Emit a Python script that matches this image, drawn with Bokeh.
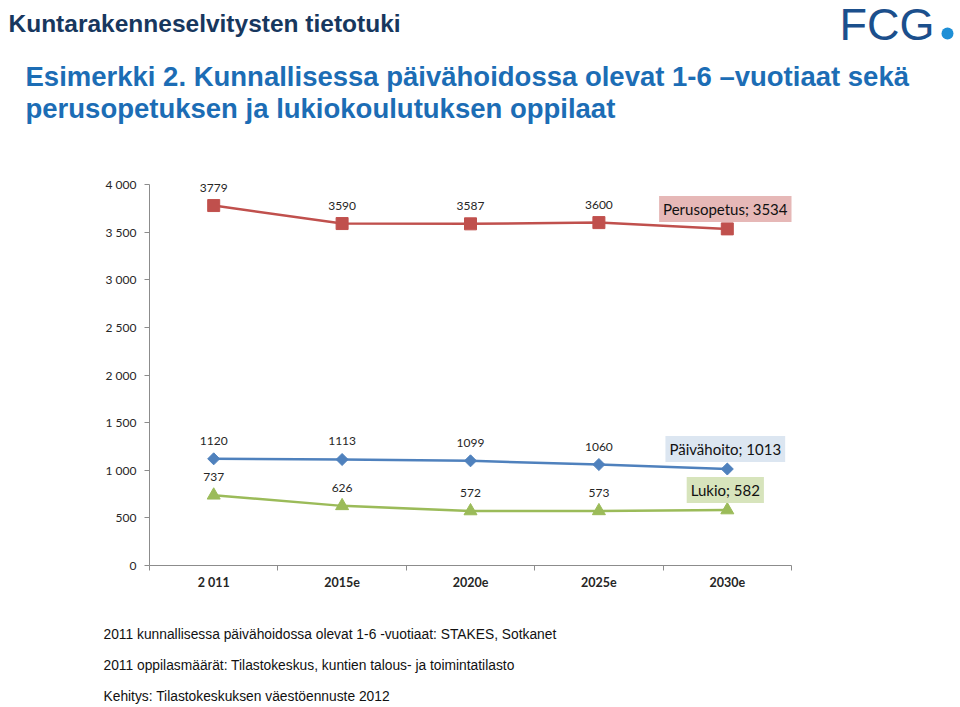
from bokeh.plotting import figure
from bokeh.models import FixedTicker, Label, ColumnDataSource, Range1d, Plot
from bokeh.layouts import column
from bokeh.embed import file_html
from bokeh.resources import INLINE
from bokeh.core.properties import value

# ---- data ----
categories = ["2 011", "2015e", "2020e", "2025e", "2030e"]
perusopetus = [3779, 3590, 3587, 3600, 3534]
paivahoito = [1120, 1113, 1099, 1060, 1013]
lukio = [737, 626, 572, 573, 582]
series_names = ["Perusopetus", "Päivähoito", "Lukio"]
y_ticks = [0, 500, 1000, 1500, 2000, 2500, 3000, 3500, 4000]
y_tick_labels = ["0", "500", "1 000", "1 500", "2 000", "2 500", "3 000", "3 500", "4 000"]

header = "Kuntarakenneselvitysten tietotuki"
title_lines = ["Esimerkki 2.  Kunnallisessa päivähoidossa olevat 1-6 –vuotiaat sekä",
               "perusopetuksen ja lukiokoulutuksen oppilaat"]
footer_lines = ["2011 kunnallisessa päivähoidossa olevat 1-6 -vuotiaat: STAKES, Sotkanet",
                "2011 oppilasmäärät: Tilastokeskus, kuntien talous- ja toimintatilasto",
                "Kehitys: Tilastokeskuksen väestöennuste 2012"]
logo_text = "FCG"

# ---- layout (page pixels) ----
W = 958
TOP_H = 140          # header strip: page y 0..140
CH_BOTTOM = 615      # chart figure: page y 140..615
BOT_END = 705        # footer strip: page y 615..705
FRAME_L = 149
FRAME_R = 804
FRAME_T = 165
FRAME_B = 565

HAS_FRAME_ALIGN = "frame_align" in Plot.properties()


def strip(y0, y1):
    f = figure(width=W, height=y1 - y0, output_backend="svg", toolbar_location=None,
               x_range=Range1d(0, W), y_range=Range1d(y1, y0),
               x_axis_type=None, y_axis_type=None, min_border=0)
    f.outline_line_color = None
    f.xgrid.visible = False
    f.ygrid.visible = False
    if HAS_FRAME_ALIGN:
        f.frame_align = False
    return f


def mid(baseline, size):
    # vertical middle of the glyphs for a given baseline
    return baseline - 0.35 * size


# header strip
top = strip(0, TOP_H)
top.text(x=[8], y=[mid(32, 24.5)], text=[header], text_baseline="middle",
         text_font=value("Liberation Sans"), text_font_size="24.5px", text_font_style="bold",
         text_color="#17375e")
top.text(x=[25, 25], y=[mid(86, 27.5), mid(118, 27.5)], text=title_lines, text_baseline="middle",
         text_font=value("Liberation Sans"), text_font_size="27.5px", text_font_style="bold",
         text_color="#1c6db5")
top.text(x=[839], y=[23.5], text=[logo_text], text_baseline="middle",
         text_font=value("Liberation Sans"), text_font_size="45px", text_color="#1b4f8c")
top.scatter(x=[947], y=[33], marker="circle", size=12, fill_color="#1e8fd6", line_color=None)

# footer strip
bot = strip(CH_BOTTOM, BOT_END)
bot.text(x=[103, 103, 103], y=[mid(639, 13.8), mid(670, 13.8), mid(701, 13.8)],
         text=footer_lines, text_baseline="middle",
         text_font=value("Liberation Sans"), text_font_size="13.8px", text_color="#111111")

# chart
xs = list(range(1, len(categories) + 1))
px_per_cat = (791 - FRAME_L) / len(categories)
x_end = len(categories) + 0.5 + (FRAME_R - 791) / px_per_cat
px_per_unit = (FRAME_B - 184) / 4000.0
y_end = (FRAME_B - FRAME_T) / px_per_unit

p = figure(width=W, height=CH_BOTTOM - TOP_H, output_backend="svg", toolbar_location=None,
           x_range=Range1d(0.5, x_end), y_range=Range1d(0, y_end),
           min_border_left=FRAME_L, min_border_right=W - FRAME_R,
           min_border_top=FRAME_T - TOP_H, min_border_bottom=CH_BOTTOM - FRAME_B)
p.outline_line_color = None
p.xgrid.visible = False
p.ygrid.visible = False
if HAS_FRAME_ALIGN:
    p.frame_align = False

axis_col = "#8c8c8c"
lab_font = "Lato"
p.yaxis.ticker = FixedTicker(ticks=y_ticks, minor_ticks=[])
p.yaxis.bounds = (0, 4000)
p.yaxis.major_label_overrides = {t: l for t, l in zip(y_ticks, y_tick_labels)}
p.yaxis.axis_line_color = axis_col
p.yaxis.major_tick_line_color = axis_col
p.yaxis.major_tick_out = 5
p.yaxis.major_tick_in = 0
p.yaxis.minor_tick_line_color = None
p.yaxis.major_label_standoff = 8
p.yaxis.major_label_text_font = lab_font
p.yaxis.major_label_text_font_size = "12px"
p.yaxis.major_label_text_color = "#262626"

bounds = [i + 0.5 for i in range(0, len(categories) + 1)]
p.xaxis.ticker = FixedTicker(ticks=xs, minor_ticks=bounds)
p.xaxis.bounds = (0.5, len(categories) + 0.5)
p.xaxis.major_label_overrides = {x: c for x, c in zip(xs, categories)}
p.xaxis.axis_line_color = axis_col
p.xaxis.major_tick_line_color = None
p.xaxis.major_tick_out = 0
p.xaxis.major_tick_in = 0
p.xaxis.minor_tick_line_color = axis_col
p.xaxis.minor_tick_out = 5
p.xaxis.minor_tick_in = 0
p.xaxis.major_label_standoff = 4
p.xaxis.major_label_text_font = lab_font
p.xaxis.major_label_text_font_size = "12.5px"
p.xaxis.major_label_text_font_style = "bold"
p.xaxis.major_label_text_color = "#262626"

colors = ["#c0504d", "#4f81bd", "#9bbb59"]
box_colors = ["#e6b8b7", "#dce6f1", "#d7e4bc"]
series = [perusopetus, paivahoito, lukio]

for name, vals, col, bcol in zip(series_names, series, colors, box_colors):
    src = ColumnDataSource(dict(x=xs, y=vals))
    p.line("x", "y", source=src, line_color=col, line_width=2.5)
    if name == "Perusopetus":
        p.scatter("x", "y", source=src, marker="square", size=12, fill_color=col, line_color=col)
    elif name == "Päivähoito":
        p.scatter("x", "y", source=src, marker="square", size=8.5, angle=0.7853981634,
                  fill_color=col, line_color=col)
    else:
        p.scatter("x", "y", source=src, marker="triangle", size=13, fill_color=col, line_color=col)
    lsrc = ColumnDataSource(dict(x=xs[:-1], y=vals[:-1], t=[str(v) for v in vals[:-1]]))
    p.text("x", "y", text="t", source=lsrc, text_align="center", text_baseline="middle",
           y_offset=-18, text_font=value(lab_font), text_font_size="12px", text_color="#262626")
    p.add_layout(Label(x=xs[-1], y=vals[-1], text=f"{name}; {vals[-1]}",
                       x_offset=-2, y_offset=20, text_align="center", text_baseline="middle",
                       text_font=lab_font, text_font_size="15px", text_color="#111111",
                       background_fill_color=bcol, padding=4))

if HAS_FRAME_ALIGN:
    page = column(top, p, bot, spacing=0)
    html = file_html(page, INLINE)
else:
    html = file_html([top, p, bot], INLINE)
open("out.html", "w").write(html)
